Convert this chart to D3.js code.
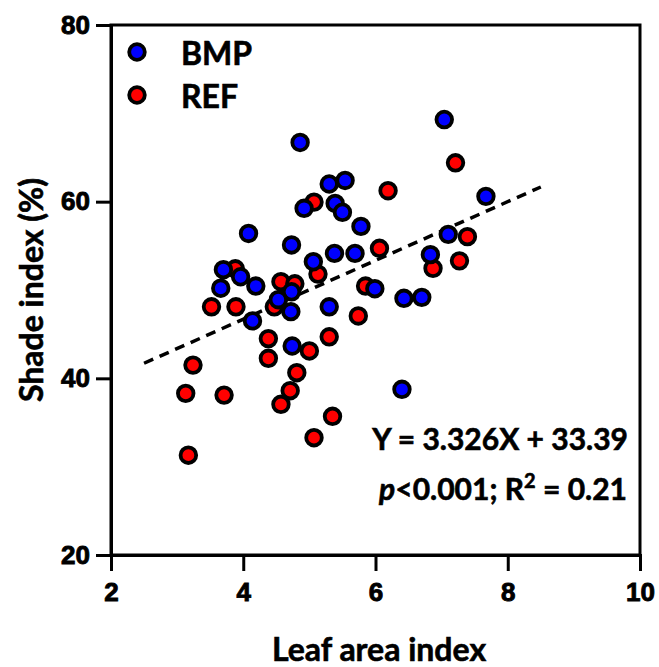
<!DOCTYPE html>
<html>
<head>
<meta charset="utf-8">
<script src="https://cdn.jsdelivr.net/npm/d3@7"></script>
<style>
  body { margin: 0; background: #ffffff; }
</style>
</head>
<body>
<div id="chart-area"></div>
<script>
// leaf area index (x) and shade index % (y)
var bmpX = [4.86, 5.30, 5.54, 7.04, 7.67, 7.10, 6.83, 4.92, 5.39, 5.50,
            5.78, 4.08, 4.73, 5.38, 5.69, 5.06, 3.70, 3.96, 3.66, 4.19,
            4.14, 4.73, 4.53, 4.72, 5.30, 5.99, 4.74, 6.43, 6.70, 6.40];
var bmpY = [66.7, 62.0, 62.4, 69.3, 60.6, 56.3, 54.0, 59.25, 59.8, 58.8,
            57.2, 56.4, 55.1, 54.15, 54.15, 53.2, 52.3, 51.5, 50.2, 50.45,
            46.5, 49.8, 48.9, 47.55, 48.1, 50.15, 43.66, 49.06, 49.17, 38.76];

var refX = [7.21, 6.19, 7.39, 6.87, 7.27, 6.06, 5.07, 5.13, 3.88, 3.52,
            3.89, 4.57, 4.78, 4.47, 5.74, 5.85, 4.38, 5.00, 5.30, 4.38,
            3.24, 4.81, 4.71, 4.57, 3.13, 3.71, 5.35, 5.07, 3.17];
var refY = [64.4, 61.24, 56.04, 52.46, 53.3, 54.72, 59.95, 51.8, 52.4, 48.1,
            48.1, 50.94, 50.7, 48.1, 47.06, 50.45, 44.5, 43.1, 44.7, 42.27,
            41.5, 40.64, 38.6, 37.06, 38.3, 38.1, 35.7, 33.28, 31.3];

var xTicks = [2, 4, 6, 8, 10];
var yTicks = [20, 40, 60, 80];
var fitSlope = 3.326, fitIntercept = 33.39;
var fitRange = [2.5, 8.5];

var width = 659, height = 667;
var svg = d3.select("#chart-area").append("svg")
    .attr("width", width).attr("height", height);

var x = d3.scaleLinear().domain([2, 10]).range([111, 640]);
var y = d3.scaleLinear().domain([20, 80]).range([555, 25]);

var tickFont = "'Liberation Sans', Arial, sans-serif";
var textFont = "Lato, 'Open Sans', sans-serif";

// bold text, thickened a little with a stroke
function boldText(sel, size) {
  return sel.style("font-family", textFont).style("font-weight", "bold")
    .style("font-size", size + "px")
    .attr("fill", "#000").attr("stroke", "#000").attr("stroke-width", 0.6);
}

// axes
var xAxis = svg.append("g").attr("transform", "translate(0,555)")
    .call(d3.axisBottom(x).tickValues(xTicks).tickSize(16).tickPadding(12).tickFormat(d3.format("d")));
var yAxis = svg.append("g").attr("transform", "translate(111,0)")
    .call(d3.axisLeft(y).tickValues(yTicks).tickSize(15).tickPadding(6).tickFormat(d3.format("d")));

[xAxis, yAxis].forEach(function(a) {
  a.select(".domain").attr("stroke", "#000").attr("stroke-width", 3);
  a.selectAll(".tick line").attr("stroke", "#000").attr("stroke-width", 3);
  a.selectAll(".tick text")
    .attr("fill", "#000")
    .attr("stroke", "#000").attr("stroke-width", 0.9)
    .style("font-family", tickFont)
    .style("font-weight", "bold")
    .style("font-size", "26px");
});

// top and right frame
svg.append("rect")
  .attr("x", x(2)).attr("y", y(80))
  .attr("width", x(10) - x(2)).attr("height", y(20) - y(80))
  .attr("fill", "none").attr("stroke", "#000").attr("stroke-width", 3);

// regression line
svg.append("line")
  .attr("x1", x(fitRange[0])).attr("y1", y(fitSlope * fitRange[0] + fitIntercept))
  .attr("x2", x(fitRange[1])).attr("y2", y(fitSlope * fitRange[1] + fitIntercept))
  .attr("stroke", "#000").attr("stroke-width", 3.5)
  .attr("stroke-dasharray", "10,7");

function drawPoints(xs, ys, color) {
  svg.append("g").selectAll("circle")
    .data(xs.map(function(v, i) { return [v, ys[i]]; }))
    .enter()
    .append("circle")
    .attr("cx", function(d) { return x(d[0]); })
    .attr("cy", function(d) { return y(d[1]); })
    .attr("r", 7.8)
    .attr("fill", color)
    .attr("stroke", "#000")
    .attr("stroke-width", 3.8);
}
drawPoints(refX, refY, "#ff0000");
drawPoints(bmpX, bmpY, "#0000ff");

// legend
var legend = [["BMP", "#0000ff"], ["REF", "#ff0000"]];
legend.forEach(function(l, i) {
  svg.append("circle")
    .attr("cx", 137).attr("cy", 52 + i * 43)
    .attr("r", 7.8).attr("fill", l[1])
    .attr("stroke", "#000").attr("stroke-width", 3.8);
  boldText(svg.append("text"), 32)
    .attr("x", 181).attr("y", 65 + i * 43)
    .text(l[0]);
});

// equation
boldText(svg.append("text"), 30)
  .attr("x", 628).attr("y", 450).attr("text-anchor", "end")
  .text("Y = " + fitSlope + "X + " + fitIntercept);

var stat = boldText(svg.append("text"), 30)
  .attr("x", 627).attr("y", 500).attr("text-anchor", "end");
stat.append("tspan").style("font-style", "italic").text("p");
stat.append("tspan").text("<0.001; R");
stat.append("tspan").attr("dy", -12).style("font-size", "20px").text("2");
stat.append("tspan").attr("dy", 12).text(" = 0.21");

// axis titles
boldText(svg.append("text"), 32)
  .attr("x", 379).attr("y", 661).attr("text-anchor", "middle")
  .text("Leaf area index");

boldText(svg.append("text"), 32)
  .attr("transform", "translate(43,290) rotate(-90)")
  .attr("text-anchor", "middle")
  .text("Shade index (%)");
</script>
</body>
</html>
